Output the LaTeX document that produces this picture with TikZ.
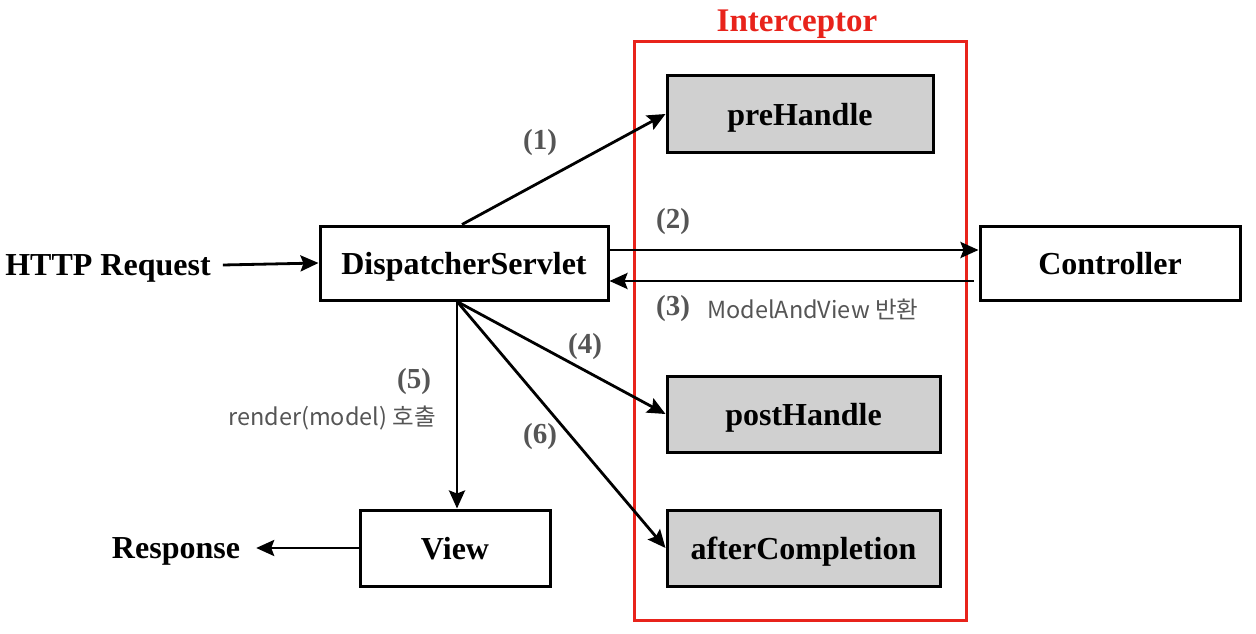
\documentclass[tikz,border=0pt]{standalone}
\usepackage{fontspec}
\setmainfont{Liberation Serif}
\newfontfamily\krfont{Noto Sans CJK KR}
\usetikzlibrary{arrows.meta}
\definecolor{boxgray}{HTML}{D0D0D0}
\definecolor{labelgray}{HTML}{555555}
\definecolor{framered}{HTML}{E8231B}
\begin{document}
\begin{tikzpicture}[x=1pt,y=-1pt,
  every node/.style={inner sep=0pt},
  plainbox/.style={draw=black, line width=3pt, fill=white, text depth=0pt, font=\fontsize{32}{36}\selectfont\bfseries},
  hookbox/.style={plainbox, fill=boxgray},
  tag/.style={text=black, text depth=0pt, font=\fontsize{32}{36}\selectfont\bfseries},
  steplabel/.style={text=labelgray, font=\fontsize{29}{32}\selectfont\bfseries},
  notelabel/.style={text=labelgray, font=\krfont\fontsize{23.5}{26}\selectfont},
  flow/.style={draw=black, line width=2.8pt, -{Stealth[length=18pt,width=16pt,inset=3pt]}}
]
\useasboundingbox (0,0) rectangle (1256,634);

% Interceptor frame
\draw[framered, line width=3pt] (634,42) rectangle (966,620);
\node[text=framered, text depth=0pt, font=\fontsize{33}{36}\selectfont\bfseries] (ititle) at (797,21) {Interceptor};

% main boxes
\node[plainbox, minimum width=288pt, minimum height=74pt] (ds) at (464,263) {DispatcherServlet};
\node[plainbox, minimum width=260pt, minimum height=74pt] (ctrl) at (1110,263) {Controller};
\node[plainbox, minimum width=190pt, minimum height=76pt] (view) at (455,548) {View};

% interceptor hooks
\node[hookbox, minimum width=266pt, minimum height=76pt] (pre) at (800,114) {preHandle};
\node[hookbox, minimum width=273pt, minimum height=76pt] (post) at (803.5,414) {postHandle};
\node[hookbox, minimum width=273pt, minimum height=76pt] (after) at (803.5,548) {afterCompletion};

% outside texts
\node[tag] (req) at (108,265) {HTTP Request};
\node[tag] (resp) at (176,548) {Response};

% connectors
\draw[flow] ([xshift=12pt]req.east) -- (ds.west);
\draw[flow] ([xshift=-2pt]ds.north) -- (pre.west);
\draw[flow] ([yshift=13pt]ds.east) -- ([yshift=13pt]ctrl.west);
\draw[flow] ([yshift=-18pt,xshift=-5pt]ctrl.west) -- ([yshift=-18pt]ds.east);
\coordinate (dsfoot) at ([xshift=-7pt]ds.south);
\draw[flow] (dsfoot) -- (post.west);
\draw[flow] (dsfoot) -- ([xshift=2pt]view.north);
\draw[flow] (dsfoot) -- (after.west);
\draw[flow] (view.west) -- ([xshift=16pt]resp.east);

% step labels
\node[steplabel] (l1) at (540,143) {(1)};
\node[steplabel] (l2) at (673,222) {(2)};
\node[steplabel] (l3) at (673,309) {(3)};
\node[notelabel, anchor=west] (n3) at (707,309) {ModelAndView 반환};
\node[steplabel] (l4) at (585,347) {(4)};
\node[steplabel] (l5) at (414,382) {(5)};
\node[notelabel, anchor=east] (n5) at (436,418) {render(model) 호출};
\node[steplabel] (l6) at (540,437) {(6)};
\end{tikzpicture}
\end{document}
